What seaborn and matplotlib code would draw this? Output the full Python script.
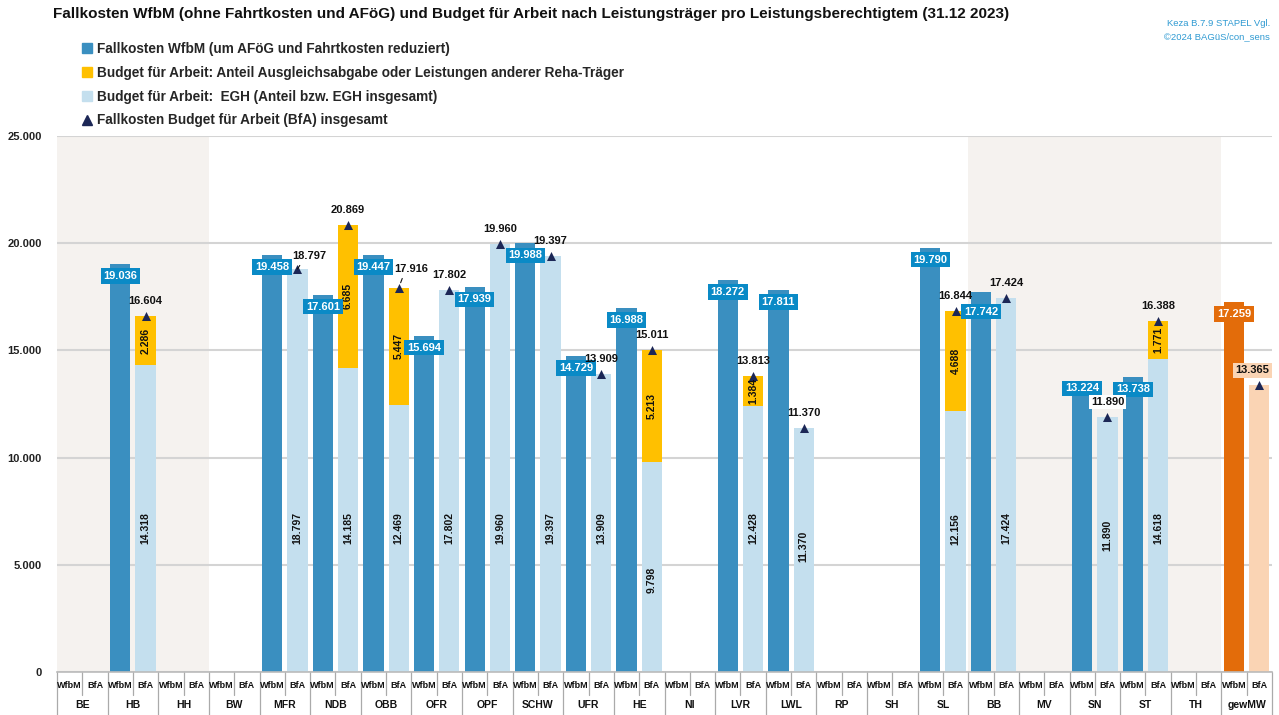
import numpy as np
import pandas as pd
import matplotlib
matplotlib.use("Agg")
import matplotlib.pyplot as plt
import seaborn as sns
from matplotlib import font_manager
from matplotlib.patches import Patch
from matplotlib.lines import Line2D


# ----------------------------------------------------------
# Data (Fallkosten pro Leistungsberechtigtem, 31.12.2023)
# ----------------------------------------------------------
groups = ["BE", "HB", "HH", "BW", "MFR", "NDB", "OBB", "OFR", "OPF", "SCHW",
          "UFR", "HE", "NI", "LVR", "LWL", "RP", "SH", "SL", "BB", "MV",
          "SN", "ST", "TH", "gewMW"]
sub_labels = ["WfbM", "BfA"]

wfbm = [None, 19036, None, None, 19458, 17601, 19447, 15694, 17939, 19988,
        14729, 16988, None, 18272, 17811, None, None, 19790, 17742, None,
        13224, 13738, None, 17259]
bfa_egh = [None, 14318, None, None, 18797, 14185, 12469, 17802, 19960, 19397,
           13909, 9798, None, 12428, 11370, None, None, 12156, 17424, None,
           11890, 14618, None, 13365]
bfa_aga = [None, 2286, None, None, 0, 6685, 5447, 0, 0, 0,
           0, 5213, None, 1384, 0, None, None, 4688, 0, None,
           0, 1771, None, 0]
bfa_total = [None, 16604, None, None, 18797, 20869, 17916, 17802, 19960, 19397,
             13909, 15011, None, 13813, 11370, None, None, 16844, 17424, None,
             11890, 16388, None, 13365]

shaded_groups = [["BE", "HB", "HH"], ["BB", "MV", "SN", "ST", "TH"]]
leader_groups = {"MFR": (12, 13), "OBB": (12, 19)}   # total label offset in px
wfbm_label_shift = {"BB": -8, "SN": 12}                # extra px shift of box label
total_label_dx = {"gewMW": -7}

title = ("Fallkosten WfbM (ohne Fahrtkosten und AFöG) und Budget für Arbeit "
         "nach Leistungsträger pro Leistungsberechtigtem (31.12 2023)")
legend_labels = [
    "Fallkosten WfbM (um AFöG und Fahrtkosten reduziert)",
    "Budget für Arbeit: Anteil Ausgleichsabgabe oder Leistungen anderer Reha-Träger",
    "Budget für Arbeit:  EGH (Anteil bzw. EGH insgesamt)",
    "Fallkosten Budget für Arbeit (BfA) insgesamt",
]

# colours
C_WFBM = "#3A8FC0"
C_BOX = "#0A8AC6"
C_LIGHT = "#C4DFEE"
C_YELLOW = "#FFC000"
C_ORANGE = "#E36C0A"
C_PEACH = "#FAD4B4"
C_NAVY = "#1C2756"
C_SHADE = "#F5F2EF"
C_GRID = "#D4D4D4"
C_NOTE = "#2F9AD2"
C_TXT = "#111111"


def de(v):
    return f"{int(round(v)):,}".replace(",", ".")


# ----------------------------------------------------------
# Setup
# ----------------------------------------------------------
sns.set_theme(style="white")
available = {f.name for f in font_manager.fontManager.ttflist}
FONT = "Liberation Sans Narrow" if "Liberation Sans Narrow" in available else "Liberation Sans"
plt.rcParams["font.family"] = [FONT, "DejaVu Sans"]

cols = [f"{g}|{s}" for g in groups for s in sub_labels]
kind = ["mw" if g == "gewMW" else "land" for g in groups]

df_w = pd.DataFrame({"col": [f"{g}|WfbM" for g in groups], "value": wfbm,
                     "kind": kind}).dropna(subset=["value"])
df_b = pd.DataFrame({"col": [f"{g}|BfA" for g in groups], "egh": bfa_egh,
                     "aga": bfa_aga, "total": bfa_total, "group": groups,
                     "kind": kind}).dropna(subset=["egh"])
df_b["stack"] = df_b["egh"] + df_b["aga"]

W, H = 1279, 715
AX_H = 536
fig = plt.figure(figsize=(W / 100, H / 100), dpi=100)
ax = fig.add_axes([57 / W, 43 / H, (1272 - 57) / W, AX_H / H])
upx = 25000 / AX_H   # data units per pixel

bar_kw = dict(order=cols, errorbar=None, width=0.8, saturation=1,
              linewidth=0, ax=ax, zorder=2)

# WfbM bars
sns.barplot(data=df_w, x="col", y="value", hue="kind", dodge=False, legend=False,
            palette={"land": C_WFBM, "mw": C_ORANGE}, **bar_kw)
# BfA: total incl. Ausgleichsabgabe (yellow) underneath, EGH share on top
sns.barplot(data=df_b[df_b["aga"] > 0], x="col", y="stack", color=C_YELLOW, **bar_kw)
sns.barplot(data=df_b, x="col", y="egh", hue="kind", dodge=False, legend=False,
            palette={"land": C_LIGHT, "mw": C_PEACH}, **bar_kw)
# total markers
sns.stripplot(data=df_b, x="col", y="total", order=cols, jitter=False,
              marker="^", color=C_NAVY, size=6.5, linewidth=0, zorder=6, ax=ax)

ax.set_xlim(-0.5, len(cols) - 0.5)
ax.set_ylim(0, 25000)

# shaded regions
for block in shaded_groups:
    i0 = cols.index(f"{block[0]}|WfbM")
    i1 = cols.index(f"{block[-1]}|BfA")
    ax.axvspan(i0 - 0.5, i1 + 0.5, color=C_SHADE, lw=0, zorder=0)

# grid / spines
ax.set_yticks(range(0, 25001, 5000))
ax.set_yticklabels(["0" if t == 0 else de(t) for t in range(0, 25001, 5000)],
                   fontsize=8, fontweight="bold", color="#222222")
ax.tick_params(axis="y", length=0, pad=11)
ax.grid(axis="y", color=C_GRID, lw=1.5, zorder=0.5)
ax.set_axisbelow(True)
for s in ["left", "right", "top"]:
    ax.spines[s].set_visible(False)
ax.spines["bottom"].set_color("#BBBBBB")
ax.spines["bottom"].set_linewidth(1.2)
ax.set_xticks([])
ax.set_xlabel("")
ax.set_ylabel("")

# ----------------------------------------------------------
# Value labels
# ----------------------------------------------------------
for g, w in zip(groups, wfbm):
    if w is None:
        continue
    x = cols.index(f"{g}|WfbM")
    y = w - 12 * upx + wfbm_label_shift.get(g, 0) * upx
    ax.text(x, y, de(w), ha="center", va="center", color="white",
            fontsize=8, fontweight="bold", zorder=8,
            bbox=dict(boxstyle="square,pad=0.25",
                      fc=C_ORANGE if g == "gewMW" else C_BOX, ec="none"))

for g, e, a, t in zip(groups, bfa_egh, bfa_aga, bfa_total):
    if e is None:
        continue
    x = cols.index(f"{g}|BfA")
    # total on top
    if g in leader_groups:
        dx, dy = leader_groups[g]
        ax.annotate(de(t), xy=(x, t), xytext=(dx, dy), textcoords="offset pixels",
                    ha="center", va="center", fontsize=8, fontweight="bold",
                    color=C_TXT, zorder=9,
                    arrowprops=dict(arrowstyle="-", color=C_TXT, lw=0.8,
                                    relpos=(0.3, 0.0), shrinkA=1, shrinkB=4))
    else:
        box = None
        if g == "SN":
            box = dict(boxstyle="square,pad=0.2", fc="white", ec="none")
        elif g == "gewMW":
            box = dict(boxstyle="square,pad=0.2", fc=C_PEACH, ec="none")
        ax.annotate(de(t), xy=(x, t), xytext=(total_label_dx.get(g, 0), 15),
                    textcoords="offset pixels", ha="center", va="center",
                    fontsize=8, fontweight="bold", color=C_TXT, zorder=9, bbox=box)
    if g == "gewMW":
        continue
    # rotated labels inside the bars
    ax.text(x, min(6700, e - 5500), de(e), rotation=90, ha="center", va="center",
            fontsize=7.5, fontweight="bold", color=C_TXT, zorder=7)
    if a:
        ax.text(x, e + a / 2, de(a), rotation=90, ha="center", va="center",
                fontsize=7.5, fontweight="bold", color=C_TXT, zorder=7)

# ----------------------------------------------------------
# Two-level category table below the axis
# ----------------------------------------------------------
tr = ax.get_xaxis_transform()
px = 1 / AX_H
for i, c in enumerate(cols):
    g, s = c.split("|")
    ax.text(i, -13 * px, s, transform=tr, ha="center", va="center",
            fontsize=6.5, fontweight="bold", color=C_TXT)
    ax.plot([i - 0.5, i - 0.5], [0, (-23 if s == "BfA" else -43) * px],
            transform=tr, color="#AAAAAA", lw=0.9, clip_on=False)
ax.plot([len(cols) - 0.5] * 2, [0, -43 * px], transform=tr, color="#AAAAAA",
        lw=0.9, clip_on=False)
for j, g in enumerate(groups):
    ax.text(2 * j + 0.5, -33 * px, g, transform=tr, ha="center", va="center",
            fontsize=7.5, fontweight="bold", color=C_TXT)

# ----------------------------------------------------------
# Title, notes, legend
# ----------------------------------------------------------
fig.text(53 / W, 1 - 14 / H, title, ha="left", va="center",
         fontsize=11, fontweight="bold", color=C_TXT)
fig.text(1270 / W, 1 - 23 / H, "Keza B.7.9 STAPEL Vgl.", ha="right", va="center",
         fontsize=6.8, color=C_NOTE)
fig.text(1270 / W, 1 - 37 / H, "©2024 BAGüS/con_sens", ha="right", va="center",
         fontsize=6.8, color=C_NOTE)

handles = [Patch(color=C_WFBM), Patch(color=C_YELLOW), Patch(color=C_LIGHT),
           Line2D([], [], marker="^", color=C_NAVY, linestyle="none", markersize=7)]
fig.legend(handles, legend_labels, loc="upper left",
           bbox_to_anchor=(82 / W, 1 - 42 / H), frameon=False,
           prop=dict(size=9.8, weight="bold"), handlelength=0.7, handleheight=0.7,
           handletextpad=0.4, labelspacing=0.72, borderpad=0, borderaxespad=0)

fig.savefig("out.png", dpi=100)
